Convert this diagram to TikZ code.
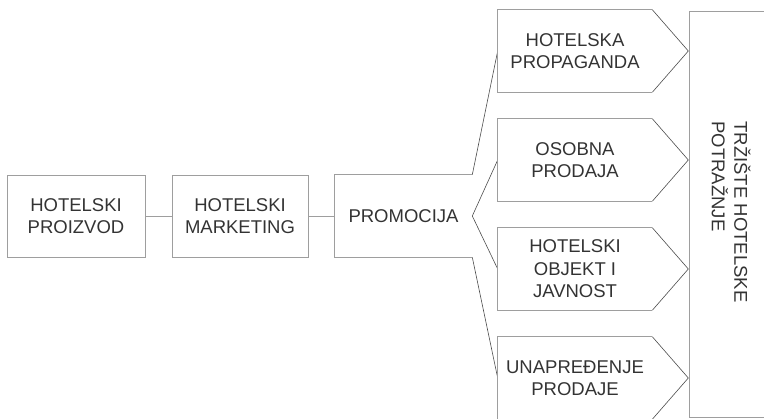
\documentclass[tikz,border=0pt]{standalone}
\usepackage{fontspec}
\setmainfont{Liberation Sans}
\usetikzlibrary {positioning}
\definecolor{boxgray}{rgb}{0.62, 0.62, 0.62}
\definecolor{linegray}{rgb}{0.3, 0.3, 0.3}
\definecolor{textgray}{rgb}{0.2, 0.2, 0.2}

\begin{document}
\begin{tikzpicture}[x=1pt, y=-1pt, node distance = 109pt and 164pt, on grid, line width=0.6pt, every node/.style={text=textgray, font=\fontsize{18.5}{22.5}\selectfont, align=center, inner sep=0pt}]
			\useasboundingbox (0,0) rectangle (764,419);
			\node [draw=boxgray, minimum width=138pt, minimum height=82pt] (proizvod) at (76,216) {HOTELSKI\\PROIZVOD};
			\node [draw=boxgray, minimum width=136pt, minimum height=82pt] (marketing) [right =of proizvod] {HOTELSKI\\MARKETING};
			\node [minimum width=137pt, minimum height=82pt] (promocija) [right =163.5pt of marketing] {PROMOCIJA};
			\node [minimum width=154pt, minimum height=82pt] (propaganda) at (575,51) {HOTELSKA\\PROPAGANDA};
			\node [minimum width=154pt, minimum height=82pt] (prodaja) [below =of propaganda] {OSOBNA\\PRODAJA};
			\node [minimum width=154pt, minimum height=82pt] (javnost) [below =of prodaja] {HOTELSKI\\OBJEKT I\\JAVNOST};
			\node [minimum width=154pt, minimum height=82pt] (unapredjenje) [below =of javnost] {UNAPREĐENJE\\PRODAJE};
			\node [minimum width=74pt, minimum height=405pt] (trziste) at (727,214.5) {};
			\node [rotate=-90, align=left] (trzistetekst) at (731,212) {TRŽIŠTE HOTELSKE\\POTRAŽNJE};
			\draw [boxgray] (proizvod) -- (marketing);
			\draw [boxgray] (marketing) -- (promocija);
			\draw [boxgray] (promocija.north east) -- (promocija.north west) -- (promocija.south west) -- (promocija.south east);
			\draw [linegray] (promocija.north east) -- (propaganda.west);
			\draw [linegray] (promocija.east) -- (prodaja.west);
			\draw [linegray] (promocija.east) -- (javnost.west);
			\draw [linegray] (promocija.south east) -- (unapredjenje.west);
			\foreach \n in {propaganda, prodaja, javnost, unapredjenje} {
				\draw [boxgray] (\n.north east) -- (\n.north west) -- (\n.south west) -- (\n.south east);
				\draw [linegray] (\n.north east) -- ([xshift=36pt]\n.east) -- (\n.south east);
			}
			\draw [boxgray] (trziste.north east) -- (trziste.north west) -- (trziste.south west) -- (trziste.south east);
		\end{tikzpicture}
\end{document}
